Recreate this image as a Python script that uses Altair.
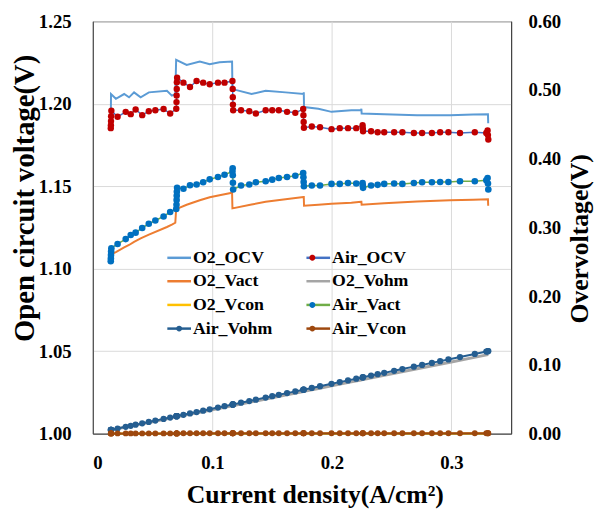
import altair as alt
import pandas as pd

# ---------------- data ----------------
series_names = ["O2_OCV", "Air_OCV", "O2_Vact", "O2_Vohm",
                "O2_Vcon", "Air_Vact", "Air_Vohm", "Air_Vcon"]
line_colors = ["#5B9BD5", "#4472C4", "#ED7D31", "#A5A5A5",
               "#FFC000", "#70AD47", "#255E91", "#9E480E"]
dot_colors = ["transparent", "#C00000", "transparent", "transparent",
              "transparent", "#0070C0", "#255E91", "#9E480E"]

o2_x = [0.0151, 0.0152, 0.0193, 0.0262, 0.0303, 0.0345, 0.0400, 0.0469, 0.0620, 0.0661,
        0.0690, 0.0697, 0.0785, 0.0895, 0.0978, 0.1060, 0.1165, 0.1168, 0.1328, 0.1446,
        0.1612, 0.1763, 0.1765, 0.1767, 0.1887, 0.1997, 0.2163, 0.2245, 0.2247, 0.2249,
        0.2438, 0.2713, 0.2989, 0.3182, 0.3306, 0.3308]
o2_ocv = [1.1970, 1.2059, 1.2030, 1.2059, 1.2039, 1.2069, 1.2039, 1.2069, 1.2079, 1.2049,
          1.2059, 1.2266, 1.2236, 1.2256, 1.2240, 1.2252, 1.2256, 1.2089, 1.2059, 1.2079,
          1.2069, 1.2059, 1.2069, 1.1980, 1.1970, 1.1951, 1.1961, 1.1961, 1.1970, 1.1941,
          1.1937, 1.1931, 1.1931, 1.1935, 1.1937, 1.1882]
o2_vact = [0.2603, 0.2610, 0.2640, 0.2710, 0.2745, 0.2790, 0.2840, 0.2895, 0.3007, 0.3040,
           0.3069, 0.3268, 0.3330, 0.3396, 0.3440, 0.3470, 0.3506, 0.3278, 0.3335, 0.3373,
           0.3411, 0.3444, 0.3444, 0.3316, 0.3330, 0.3345, 0.3360, 0.3373, 0.3373, 0.3330,
           0.3354, 0.3378, 0.3396, 0.3405, 0.3411, 0.3316]
o2_vohm = [0.0052, 0.0052, 0.0067, 0.0091, 0.0105, 0.0120, 0.0139, 0.0163, 0.0216, 0.0230,
           0.0240, 0.0243, 0.0273, 0.0312, 0.0340, 0.0369, 0.0405, 0.0406, 0.0462, 0.0503,
           0.0561, 0.0614, 0.0614, 0.0615, 0.0657, 0.0695, 0.0753, 0.0781, 0.0782, 0.0783,
           0.0848, 0.0944, 0.1040, 0.1107, 0.1150, 0.1151]
o2_vcon = [0.0003, 0.0003, 0.0003, 0.0003, 0.0003, 0.0003, 0.0003, 0.0003, 0.0003, 0.0003,
           0.0003, 0.0003, 0.0003, 0.0003, 0.0003, 0.0003, 0.0003, 0.0003, 0.0003, 0.0003,
           0.0003, 0.0003, 0.0003, 0.0003, 0.0003, 0.0003, 0.0003, 0.0003, 0.0003, 0.0003,
           0.0003, 0.0003, 0.0003, 0.0003, 0.0003, 0.0003]

air_x = [0.0150, 0.0151, 0.0152, 0.0153, 0.0155,
         0.0207, 0.0275, 0.0317, 0.0358, 0.0413, 0.0468, 0.0523, 0.0592, 0.0647,
         0.0698, 0.0700, 0.0701, 0.0702, 0.0703, 0.0705,
         0.0758, 0.0813, 0.0868, 0.0923, 0.0978, 0.1047, 0.1102,
         0.1168, 0.1170, 0.1171, 0.1172, 0.1174,
         0.1240, 0.1309, 0.1364, 0.1446, 0.1501, 0.1556, 0.1625, 0.1694,
         0.1760, 0.1762, 0.1764, 0.1766,
         0.1832, 0.1901, 0.1997, 0.2066, 0.2135, 0.2204,
         0.2257, 0.2259, 0.2261,
         0.2328, 0.2383, 0.2438, 0.2521, 0.2590, 0.2686, 0.2755, 0.2837, 0.2906, 0.2975,
         0.3072, 0.3196, 0.3292,
         0.3303, 0.3306, 0.3309]
air_ocv = [1.1852, 1.1870, 1.1895, 1.1925, 1.1958,
           1.1921, 1.1951, 1.1937, 1.1965, 1.1931, 1.1955, 1.1961, 1.1968, 1.1941,
           1.1970, 1.2010, 1.2050, 1.2090, 1.2130, 1.2158,
           1.2128, 1.2102, 1.2138, 1.2128, 1.2118, 1.2128, 1.2128,
           1.2138, 1.2090, 1.2040, 1.1995, 1.1961,
           1.1961, 1.1955, 1.1941, 1.1961, 1.1961, 1.1961, 1.1951, 1.1945,
           1.1968, 1.1930, 1.1890, 1.1855,
           1.1862, 1.1858, 1.1846, 1.1852, 1.1852, 1.1852,
           1.1870, 1.1850, 1.1833,
           1.1833, 1.1827, 1.1827, 1.1827, 1.1827, 1.1823, 1.1823, 1.1823, 1.1827, 1.1827,
           1.1823, 1.1827, 1.1823,
           1.1838, 1.1810, 1.1783]
air_vact = [0.2508, 0.2550, 0.2600, 0.2650, 0.2698,
            0.2760, 0.2831, 0.2890, 0.2925, 0.2993, 0.3054, 0.3102, 0.3160, 0.3225,
            0.3268, 0.3330, 0.3400, 0.3460, 0.3520, 0.3577,
            0.3563, 0.3615, 0.3625, 0.3658, 0.3700, 0.3734, 0.3767,
            0.3815, 0.3862, 0.3760, 0.3650, 0.3553,
            0.3610, 0.3625, 0.3658, 0.3672, 0.3696, 0.3720, 0.3734, 0.3753,
            0.3791, 0.3730, 0.3660, 0.3600,
            0.3610, 0.3610, 0.3634, 0.3634, 0.3648, 0.3639,
            0.3648, 0.3610, 0.3577,
            0.3610, 0.3620, 0.3634, 0.3639, 0.3634, 0.3648, 0.3658, 0.3658, 0.3662, 0.3662,
            0.3672, 0.3672, 0.3686,
            0.3720, 0.3640, 0.3553]
air_vohm = [0.0054, 0.0055, 0.0055, 0.0056, 0.0056,
            0.0075, 0.0100, 0.0115, 0.0130, 0.0150, 0.0170, 0.0190, 0.0215, 0.0235,
            0.0254, 0.0254, 0.0255, 0.0255, 0.0255, 0.0256,
            0.0275, 0.0295, 0.0315, 0.0335, 0.0355, 0.0380, 0.0400,
            0.0424, 0.0425, 0.0425, 0.0425, 0.0426,
            0.0450, 0.0475, 0.0495, 0.0525, 0.0545, 0.0565, 0.0590, 0.0615,
            0.0639, 0.0640, 0.0640, 0.0641,
            0.0665, 0.0690, 0.0725, 0.0750, 0.0775, 0.0800,
            0.0819, 0.0820, 0.0821,
            0.0845, 0.0865, 0.0885, 0.0915, 0.0940, 0.0975, 0.1000, 0.1030, 0.1055, 0.1080,
            0.1115, 0.1160, 0.1195,
            0.1199, 0.1200, 0.1201]
air_vcon = [0.0004, 0.0004, 0.0004, 0.0004, 0.0004,
            0.0004, 0.0004, 0.0004, 0.0004, 0.0004, 0.0004, 0.0004, 0.0004, 0.0004,
            0.0004, 0.0004, 0.0004, 0.0004, 0.0004, 0.0004,
            0.0005, 0.0005, 0.0005, 0.0005, 0.0005, 0.0005, 0.0005,
            0.0005, 0.0005, 0.0005, 0.0005, 0.0005,
            0.0005, 0.0005, 0.0005, 0.0005, 0.0005, 0.0005, 0.0005, 0.0005,
            0.0005, 0.0005, 0.0005, 0.0005,
            0.0006, 0.0006, 0.0006, 0.0006, 0.0006, 0.0006,
            0.0006, 0.0006, 0.0006,
            0.0007, 0.0007, 0.0007, 0.0007, 0.0007, 0.0007, 0.0007, 0.0007, 0.0007, 0.0007,
            0.0007, 0.0007, 0.0007,
            0.0007, 0.0007, 0.0007]

x_ticks = [0, 0.1, 0.2, 0.3]
left_ticks = [1.00, 1.05, 1.10, 1.15, 1.20, 1.25]
right_ticks = [0.0, 0.1, 0.2, 0.3, 0.4, 0.5, 0.6]

# ---------------- long table ----------------
def block(name, xs, ys):
    return pd.DataFrame({"series": name, "dseries": "d:" + name,
                         "x": xs, "y": ys, "idx": list(range(len(xs)))})

df = pd.concat([
    block("O2_OCV", o2_x, o2_ocv), block("Air_OCV", air_x, air_ocv),
    block("O2_Vact", o2_x, o2_vact), block("O2_Vohm", o2_x, o2_vohm),
    block("O2_Vcon", o2_x, o2_vcon), block("Air_Vact", air_x, air_vact),
    block("Air_Vohm", air_x, air_vohm), block("Air_Vcon", air_x, air_vcon),
], ignore_index=True)

FONT = "Liberation Serif"
LX, LY = 76, 228

axis_common = dict(labelFont=FONT, labelFontSize=19, labelFontWeight="bold",
                   labelColor="black", titleFont=FONT, titleFontWeight="bold",
                   titleColor="black", domainColor="#404040", tickSize=0,
                   gridColor="#D9D9D9", gridWidth=1)

x_enc = alt.X("x:Q", scale=alt.Scale(domain=[0, 0.35], nice=False),
              axis=alt.Axis(values=x_ticks,
                            labelExpr="datum.value == 0 ? '0' : format(datum.value, '.1f')",
                            title="Current density(A/cm²)", titleFontSize=26,
                            titleX=225, titleY=62, titleAlign="center",
                            titleBaseline="middle", labelPadding=20, grid=True,
                            **axis_common))
y_left = alt.Y("y:Q", scale=alt.Scale(domain=[1.0, 1.25], nice=False, zero=False),
               axis=alt.Axis(values=left_ticks, format=".2f", orient="left",
                             title="Open circuit voltage(V)", titleFontSize=29,
                             titleAngle=270, titleX=-69, titleY=179,
                             titleAlign="center", titleBaseline="middle",
                             labelPadding=22, grid=True, **axis_common))
y_right = alt.Y("y:Q", scale=alt.Scale(domain=[0, 0.6], nice=False),
                axis=alt.Axis(values=right_ticks, format=".2f", orient="right",
                              title="Overvoltage(V)", titleFontSize=26,
                              titleAngle=270, titleX=69, titleY=220,
                              titleAlign="center", titleBaseline="middle",
                              labelPadding=17, grid=False, **axis_common))

legend_common = dict(title=None, orient="none", legendX=LX, legendY=LY, columns=2,
                     direction="horizontal", symbolSize=400, symbolStrokeWidth=2.5,
                     labelFont=FONT, labelFontSize=18, labelFontWeight="bold",
                     labelColor="black", columnPadding=29, rowPadding=3,
                     labelOffset=2.5, padding=0)

line_legend = alt.Legend(symbolType="M-1.2,0H1.2", **legend_common)
dot_legend = alt.Legend(symbolType="M-0.3,0A0.3,0.3,0,1,1,0.3,0A0.3,0.3,0,1,1,-0.3,0Z",
                        symbolStrokeColor="transparent", labelOpacity=0,
                        labelExpr="substring(datum.label, 2)", **legend_common)

color_enc = alt.Color("series:N", scale=alt.Scale(domain=series_names, range=line_colors),
                      legend=line_legend)
fill_enc = alt.Fill("dseries:N",
                    scale=alt.Scale(domain=["d:" + s for s in series_names], range=dot_colors),
                    legend=dot_legend)

widths = {"O2_OCV": 2, "Air_OCV": 1.5, "O2_Vact": 2, "O2_Vohm": 3, "O2_Vcon": 2,
          "Air_Vact": 1.5, "Air_Vohm": 2, "Air_Vcon": 2}
base = alt.Chart(df)


def line(name, yenc):
    return base.transform_filter(alt.datum.series == name).mark_line(
        strokeWidth=widths[name]).encode(x=x_enc, y=yenc, color=color_enc, order="idx:Q")


def dots(name, yenc, size):
    return base.transform_filter(alt.datum.series == name).mark_point(
        filled=True, opacity=1, size=size, strokeWidth=0).encode(
        x=x_enc, y=yenc, fill=fill_enc)


left = alt.layer(line("O2_OCV", y_left), line("Air_OCV", y_left),
                 dots("Air_OCV", y_left, 42))
right = alt.layer(line("O2_Vact", y_right), line("O2_Vohm", y_right),
                  line("O2_Vcon", y_right), line("Air_Vact", y_right),
                  dots("Air_Vact", y_right, 45), line("Air_Vohm", y_right),
                  dots("Air_Vohm", y_right, 40), line("Air_Vcon", y_right),
                  dots("Air_Vcon", y_right, 36))

chart = alt.layer(left, right).resolve_scale(y="independent").properties(
    width=424, height=418, autosize="none",
    padding={"left": 86, "top": 10, "right": 85, "bottom": 81},
    background="white",
).configure_view(stroke="#404040", strokeWidth=1)

chart.save("out.html", embed_options={"renderer": "svg", "actions": False})
